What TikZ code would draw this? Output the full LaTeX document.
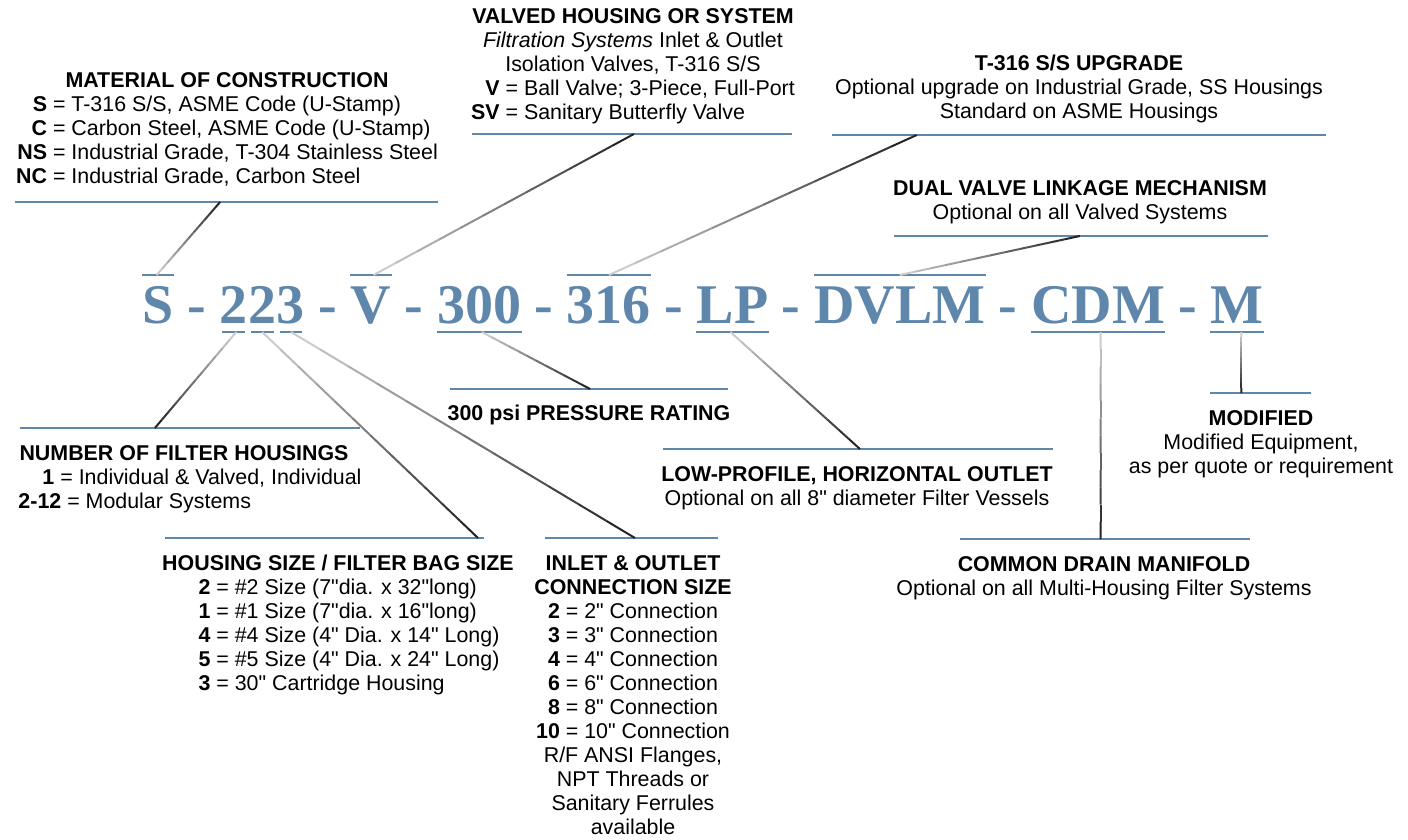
\documentclass[tikz,border=0pt]{standalone}
\usepackage{fontspec}
\setmainfont{Liberation Sans}[Ligatures=TeXOff]
\newfontfamily\codefont{Liberation Serif}
\usetikzlibrary{positioning,calc}

\definecolor{codeblue}{HTML}{5F86AB}

\tikzset{
  codetxt/.style={font=\codefont\bfseries\fontsize{28}{28}\selectfont, text=codeblue, inner sep=0pt},
  capbar/.style={fill=codeblue, inner sep=0pt, minimum height=1.2pt},
  note/.style={font=\fontsize{10.7}{12}\selectfont, align=center, inner sep=0pt, anchor=north},
  node distance=6.4pt,
}

% leader from code mark (light) to caption rule (dark)
\newcommand{\leadline}[2]{%
  \foreach \k in {0,...,11}{%
    \pgfmathsetmacro{\ka}{\k/12}%
    \pgfmathsetmacro{\kb}{(\k+1)/12}%
    \pgfmathsetmacro{\kc}{20+6*\k}%
    \draw[line width=1pt, black!\kc] ($(#1)!\ka!(#2)$) -- ($(#1)!\kb!(#2)$);
  }}

\begin{document}
\begin{tikzpicture}[x=0.5pt,y=-0.5pt]
\useasboundingbox (0,0) rectangle (1408,840);

% code line
\node[codetxt, anchor=base west] (cS) at (142,323) {S};
\node[codetxt, base right=of cS] (d1) {-};
\node[codetxt, base right=of d1] (c2a) {2};
\node[codetxt, base right=0pt of c2a] (c2b) {2};
\node[codetxt, base right=0pt of c2b] (c3) {3};
\node[codetxt, base right=of c3] (d2) {-};
\node[codetxt, base right=of d2] (cV) {V};
\node[codetxt, base right=of cV] (d3) {-};
\node[codetxt, base right=of d3] (c300) {300};
\node[codetxt, base right=of c300] (d4) {-};
\node[codetxt, base right=of d4] (c316) {316};
\node[codetxt, base right=of c316] (d5) {-};
\node[codetxt, base right=of d5] (cLP) {LP};
\node[codetxt, base right=of cLP] (d6) {-};
\node[codetxt, base right=of d6] (cDVLM) {DVLM};
\node[codetxt, base right=of cDVLM] (d7) {-};
\node[codetxt, base right=of d7] (cCDM) {CDM};
\node[codetxt, base right=of cCDM] (d8) {-};
\node[codetxt, base right=of d8] (cM) {M};

\foreach \n in {cS,cV,c316,cDVLM}
  \draw[codeblue, line width=1.2pt] ($(\n.base west)+(0pt,24pt)$) -- ($(\n.base east)+(0pt,24pt)$);
\foreach \n in {c2a,c2b,c3}
  \draw[codeblue, line width=1.2pt, shorten <=1.5pt, shorten >=1.5pt] ($(\n.base west)+(0pt,-4.5pt)$) -- ($(\n.base east)+(0pt,-4.5pt)$);
\foreach \n in {c300,cLP,cCDM,cM}
  \draw[codeblue, line width=1.2pt] ($(\n.base west)+(0pt,-4.5pt)$) -- ($(\n.base east)+(0pt,-4.5pt)$);

% caption rules
\node[capbar, minimum width=211.5pt] (matbar) at (226.5,202) {};
\node[capbar, minimum width=160pt] (valbar) at (632,134) {};
\node[capbar, minimum width=247pt] (upgbar) at (1079,135) {};
\node[capbar, minimum width=187pt] (dvlbar) at (1081,236) {};
\node[capbar, minimum width=170pt] (numbar) at (190,428) {};
\node[capbar, minimum width=159.5pt] (housbar) at (324.5,538) {};
\node[capbar, minimum width=86.5pt] (inbar) at (631.5,538) {};
\node[capbar, minimum width=139pt] (psibar) at (589,389) {};
\node[capbar, minimum width=195pt] (lpbar) at (858,449) {};
\node[capbar, minimum width=145pt] (cdmbar) at (1105,539) {};
\node[capbar, minimum width=50.5pt] (modbar) at (1260.5,393) {};

% captions
\node[note] (matcap) at (227,72) {\textbf{MATERIAL OF CONSTRUCTION}\\
  \begin{tabular}[t]{@{}r@{ = }l@{}}
  \textbf{S} & T-316 S/S, ASME Code (U-Stamp)\\
  \textbf{C} & Carbon Steel, ASME Code (U-Stamp)\\
  \textbf{NS} & Industrial Grade, T-304 Stainless Steel\\
  \textbf{NC} & Industrial Grade, Carbon Steel
  \end{tabular}};
\node[note] (valcap) at (633,8) {\textbf{VALVED HOUSING OR SYSTEM}\\
  \textit{Filtration Systems} Inlet \& Outlet\\
  Isolation Valves, T-316 S/S\\
  \begin{tabular}[t]{@{}r@{ = }l@{}}
  \textbf{V} & Ball Valve; 3-Piece, Full-Port\\
  \textbf{SV} & Sanitary Butterfly Valve
  \end{tabular}};
\node[note] (upgcap) at (1079,55) {\textbf{T-316 S/S UPGRADE}\\
  Optional upgrade on Industrial Grade, SS Housings\\
  Standard on ASME Housings};
\node[note] (dvlcap) at (1080,180) {\textbf{DUAL VALVE LINKAGE MECHANISM}\\
  Optional on all Valved Systems};
\node[note] (numcap) at (184,445) {\textbf{NUMBER OF FILTER HOUSINGS}\\
  \hspace{6pt}\begin{tabular}[t]{@{}l@{}}
  \hspace{12pt}\textbf{1} = Individual \& Valved, Individual\\
  \textbf{2-12} = Modular Systems
  \end{tabular}};
\node[note] (psicap) at (589,405) {\textbf{300 psi PRESSURE RATING}};
\node[note] (lpcap) at (857,466) {\textbf{LOW-PROFILE, HORIZONTAL OUTLET}\\
  Optional on all 8" diameter Filter Vessels};
\node[note] (modcap) at (1261,410) {\textbf{MODIFIED}\\
  Modified Equipment,\\
  as per quote or requirement};
\node[note] (houscap) at (338,555) {\textbf{HOUSING SIZE / FILTER BAG SIZE}\\
  \hspace{11pt}\begin{tabular}[t]{@{}r@{ = }l@{}}
  \textbf{2} & \#2 Size (7"dia. x 32"long)\\
  \textbf{1} & \#1 Size (7"dia. x 16"long)\\
  \textbf{4} & \#4 Size (4" Dia. x 14" Long)\\
  \textbf{5} & \#5 Size (4" Dia. x 24" Long)\\
  \textbf{3} & 30" Cartridge Housing
  \end{tabular}};
\node[note] (inlcap) at (633,555) {\textbf{INLET \& OUTLET}\\
  \textbf{CONNECTION SIZE}\\
  \begin{tabular}[t]{@{}c@{}}
  \textbf{2} = 2" Connection\\
  \textbf{3} = 3" Connection\\
  \textbf{4} = 4" Connection\\
  \textbf{6} = 6" Connection\\
  \textbf{8} = 8" Connection\\
  \textbf{10} = 10" Connection\\
  R/F ANSI Flanges,\\
  NPT Threads or\\
  Sanitary Ferrules\\
  available
  \end{tabular}};
\node[note] (cdmcap) at (1104,556) {\textbf{COMMON DRAIN MANIFOLD}\\
  Optional on all Multi-Housing Filter Systems};

% leader ends
\coordinate (eS) at ($(cS.base west)!.46!(cS.base east)+(0pt,24pt)$);
\coordinate (eV) at ($(cV.base west)!.56!(cV.base east)+(0pt,24pt)$);
\coordinate (e316) at ($(c316.base west)!.5!(c316.base east)+(0pt,24pt)$);
\coordinate (eDVLM) at ($(cDVLM.base west)!.5!(cDVLM.base east)+(0pt,24pt)$);
\coordinate (e2a) at ($(c2a.base west)!.6!(c2a.base east)+(0pt,-4.5pt)$);
\coordinate (e2b) at ($(c2b.base west)!.5!(c2b.base east)+(0pt,-4.5pt)$);
\coordinate (e3) at ($(c3.base west)!.5!(c3.base east)+(0pt,-4.5pt)$);
\coordinate (e300) at ($(c300.base west)!.53!(c300.base east)+(0pt,-4.5pt)$);
\coordinate (eLP) at ($(cLP.base west)!.47!(cLP.base east)+(0pt,-4.5pt)$);
\coordinate (eCDM) at ($(cCDM.base west)!.52!(cCDM.base east)+(0pt,-4.5pt)$);
\coordinate (eM) at ($(cM.base west)!.58!(cM.base east)+(0pt,-4.5pt)$);

\coordinate (bS) at ($(matbar.west)!.485!(matbar.east)$);
\coordinate (bV) at ($(valbar.west)!.506!(valbar.east)$);
\coordinate (b316) at ($(upgbar.west)!.172!(upgbar.east)$);
\coordinate (bDVLM) at ($(dvlbar.west)!.497!(dvlbar.east)$);
\coordinate (b2a) at ($(numbar.west)!.397!(numbar.east)$);
\coordinate (b2b) at ($(housbar.west)!.98!(housbar.east)$);
\coordinate (b3) at ($(inbar.west)!.52!(inbar.east)$);
\coordinate (b300) at ($(psibar.west)!.504!(psibar.east)$);
\coordinate (bLP) at ($(lpbar.west)!.505!(lpbar.east)$);
\coordinate (bCDM) at (eCDM |- cdmbar.center);
\coordinate (bM) at (eM |- modbar.center);

% leaders
\foreach \a/\b in {eS/bS,eV/bV,e316/b316,eDVLM/bDVLM,e2a/b2a,e2b/b2b,e3/b3,e300/b300,eLP/bLP,eCDM/bCDM,eM/bM}
  {\leadline{\a}{\b}}

\end{tikzpicture}
\end{document}
